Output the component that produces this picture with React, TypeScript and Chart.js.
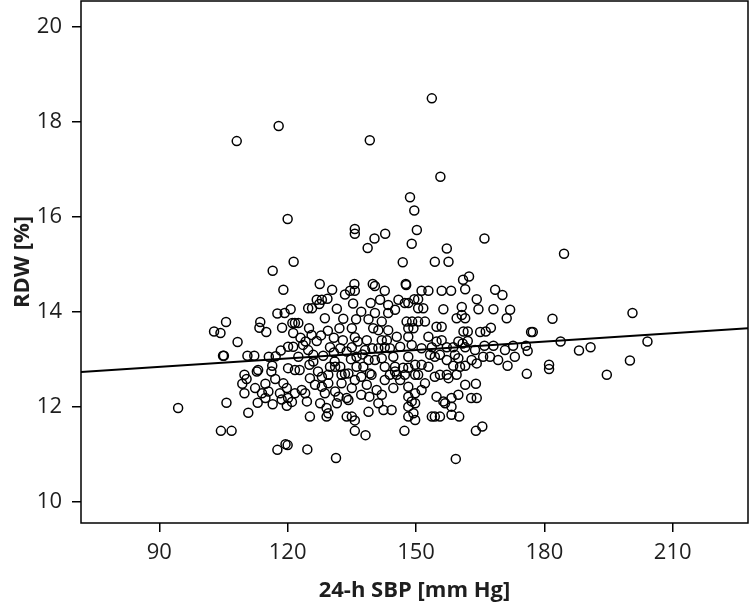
import React, { useEffect, useRef } from 'react';
import { Chart, registerables } from 'chart.js';
Chart.register(...registerables);

// 24-h SBP [mm Hg]
const sbp = [
  153.7, 117.9, 108.1, 139.2, 155.7, 148.6, 149.6, 120.0, 135.7, 135.7, 140.3, 142.8, 150.2, 149.0, 138.7, 157.2,
  121.4, 116.5, 146.9, 154.4, 157.6, 166.0, 184.6, 162.4, 161.0, 127.5, 135.6, 139.9, 147.6,
  119.0, 105.6, 102.8, 104.3, 108.3, 113.6, 113.4, 115.0, 117.6, 119.3, 118.7, 104.9, 105.1, 110.6, 112.2, 115.6,
  117.2, 118.4, 116.4, 113.1, 109.9, 116.2,
  130.4, 133.4, 134.6, 135.7, 126.8, 128.0, 129.3, 120.7, 124.8, 125.7, 127.4, 131.5, 135.3, 139.4, 128.7, 121.1,
  121.7, 122.5, 125.0, 129.4, 132.1, 135.0, 136.0, 138.9, 140.0, 121.3, 125.6, 126.8, 124.2, 130.8, 132.9, 135.7,
  136.4, 138.5, 120.1, 121.3, 123.6, 124.8, 129.9, 132.3, 135.0, 138.1, 139.8, 122.5, 126.0, 128.3, 130.8, 133.8,
  136.1, 138.9, 120.1, 121.7, 122.8, 125.1, 127.1, 129.9, 131.1, 132.3, 134.2, 136.1, 137.7, 139.2, 129.5, 132.6,
  123.0, 127.8, 133.0, 137.2, 126.0, 131.0, 134.8, 137.5,
  147.7, 140.4, 142.7, 151.3, 152.9, 156.0, 158.2, 145.9, 148.2, 149.6, 150.5, 141.6, 143.5, 147.4, 156.4, 160.7,
  140.4, 143.5, 145.1, 150.5, 151.7, 159.5, 160.7, 142.0, 147.8, 149.1, 150.5, 152.1, 148.2, 149.4, 154.8, 156.0,
  141.2, 143.5, 161.1, 145.5, 148.2, 152.9, 156.0, 154.8, 159.9, 142.0, 143.2, 141.2, 142.7, 143.9, 146.3, 149.0,
  151.3, 153.7, 157.2, 158.7, 160.9, 148.2, 153.3, 154.4, 155.6, 159.1, 159.9, 144.7, 142.0, 140.4, 157.2, 142.7,
  145.1, 149.8, 151.3, 152.9, 158.7, 160.3, 147.0, 148.2, 143.9, 145.5, 147.4, 150.5, 155.6, 157.2, 159.5,
  161.5, 168.5, 170.2, 164.2, 164.6, 168.1, 172.0, 171.2, 181.9, 200.6, 161.5, 162.1, 165.0, 166.3, 167.5, 176.9,
  177.3, 162.1, 183.8, 204.1, 161.5, 163.8, 166.0, 168.1, 170.8, 172.7, 175.7, 176.1, 188.1, 190.8, 163.0, 164.2,
  165.7, 167.3, 169.2, 171.4, 173.1, 181.1, 181.1, 200.0, 175.9, 194.6, 161.5,
  161.5, 164.0, 162.9, 164.2, 164.0, 165.5,
  94.4, 105.7, 110.8, 104.4, 106.9, 117.6, 119.5, 112.8, 110.4, 109.4, 112.4, 109.9, 114.8, 117.1, 115.5, 114.0,
  114.8, 118.2, 118.6, 119.0, 116.5, 119.8, 121.0, 113.0,
  128.0, 133.4, 135.7, 137.2, 139.6, 119.8, 121.7, 120.1, 123.3, 124.1, 124.5, 128.0, 129.5, 128.7, 131.1, 131.9,
  133.8, 135.0, 137.2, 139.1, 127.6, 129.1, 129.5, 131.5, 134.2, 125.2, 126.4, 132.6, 138.5,
  125.2, 129.1, 133.8, 135.0, 135.7, 138.9, 135.7, 138.2, 120.0, 124.6, 131.3,
  147.3, 159.3, 153.7, 154.4, 155.6, 160.1, 148.2, 149.8, 149.4,
  154.8, 156.8, 158.3, 159.9, 158.3, 144.7, 142.0, 141.2, 142.4, 144.3, 148.2, 149.0, 149.8, 148.2, 149.8, 151.3,
  152.1, 148.2, 146.3, 142.7, 154.4, 157.6, 156.4, 140.8, 145.1, 149.8, 158.3,
];

// RDW [%]
const rdw = [
  18.49, 17.91, 17.59, 17.61, 16.84, 16.41, 16.13, 15.95, 15.74, 15.64, 15.54, 15.64, 15.72, 15.43, 15.34, 15.33,
  15.05, 14.86, 15.04, 15.05, 15.05, 15.54, 15.22, 14.74, 14.67, 14.58, 14.58, 14.58, 14.58,
  14.46, 13.78, 13.58, 13.55, 13.36, 13.78, 13.66, 13.57, 13.96, 13.97, 13.66, 13.07, 13.07, 13.07, 13.07, 13.05,
  13.06, 13.18, 12.86, 12.77, 12.67, 12.74,
  14.46, 14.36, 14.44, 14.44, 14.25, 14.25, 14.27, 14.05, 14.07, 14.07, 14.16, 14.06, 14.17, 14.18, 13.86, 13.76,
  13.76, 13.76, 13.65, 13.60, 13.65, 13.65, 13.84, 13.84, 13.65, 13.55, 13.51, 13.38, 13.37, 13.45, 13.40, 13.46,
  13.37, 13.40, 13.26, 13.26, 13.30, 13.19, 13.25, 13.23, 13.25, 13.19, 13.23, 13.05, 13.09, 13.07, 13.14, 13.16,
  13.05, 12.98, 12.81, 12.77, 12.77, 12.88, 12.74, 12.84, 12.84, 12.84, 12.70, 12.84, 12.84, 12.70, 12.67, 12.67,
  13.45, 13.50, 13.85, 14.00, 12.95, 12.95, 13.00, 13.10,
  14.56, 14.54, 14.44, 14.44, 14.44, 14.44, 14.44, 14.25, 14.18, 14.26, 14.26, 14.25, 14.14, 14.18, 14.05, 14.10,
  13.97, 13.97, 14.04, 14.07, 14.07, 13.86, 13.93, 13.79, 13.79, 13.79, 13.79, 13.79, 13.65, 13.65, 13.68, 13.68,
  13.61, 13.61, 13.58, 13.47, 13.47, 13.47, 13.40, 13.37, 13.37, 13.40, 13.40, 13.23, 13.25, 13.23, 13.26, 13.30,
  13.23, 13.25, 13.25, 13.25, 13.33, 13.05, 13.09, 13.05, 13.09, 13.09, 13.02, 13.05, 13.02, 12.98, 12.98, 12.84,
  12.84, 12.88, 12.88, 12.84, 12.86, 12.84, 12.82, 12.82, 12.67, 12.67, 12.67, 12.67, 12.67, 12.67, 12.67,
  14.47, 14.46, 14.35, 14.26, 14.05, 14.05, 14.04, 13.86, 13.85, 13.97, 13.86, 13.58, 13.57, 13.58, 13.66, 13.57,
  13.57, 13.38, 13.37, 13.37, 13.25, 13.19, 13.28, 13.28, 13.19, 13.28, 13.28, 13.17, 13.18, 13.25, 12.98, 12.91,
  13.05, 13.05, 12.98, 12.86, 13.05, 12.88, 12.79, 12.97, 12.69, 12.67, 12.86,
  12.46, 12.48, 12.18, 12.18, 11.49, 11.58,
  11.97, 12.08, 11.87, 11.49, 11.49, 11.09, 11.21, 12.74, 12.58, 12.48, 12.39, 12.28, 12.48, 12.58, 12.32, 12.28,
  12.18, 12.28, 12.15, 12.49, 12.05, 12.02, 12.10, 12.08,
  12.63, 12.69, 12.56, 12.63, 12.67, 12.39, 12.28, 12.18, 12.35, 12.28, 12.11, 12.42, 12.49, 12.28, 12.32, 12.21,
  12.18, 12.39, 12.25, 12.21, 12.07, 11.97, 11.86, 12.07, 12.14, 12.60, 12.46, 12.49, 12.46,
  11.79, 11.79, 11.79, 11.79, 11.71, 11.89, 11.49, 11.40, 11.19, 11.10, 10.92,
  11.49, 10.90, 11.79, 11.79, 11.79, 11.79, 11.79, 11.72, 11.86,
  12.21, 12.07, 12.00, 12.25, 12.18, 12.39, 12.25, 12.07, 11.93, 11.93, 12.00, 12.11, 12.07, 12.21, 12.28, 12.35,
  12.49, 12.42, 12.56, 12.56, 12.63, 12.60, 12.11, 12.35, 12.74, 12.67, 11.83,
];

// regression line end points
const fitX = [71.7, 227.6];
const fitY = [12.73, 13.65];

const xTicks = [90, 120, 150, 180, 210];
const yTicks = [10, 12, 14, 16, 18, 20];

const FONT = "'Open Sans', 'DejaVu Sans', sans-serif";
const TEXT = '#1e1e1e';

const boxPlugin = {
  id: 'box',
  afterDraw(chart: any) {
    const { ctx, chartArea: a } = chart;
    ctx.save();
    ctx.strokeStyle = '#000';
    ctx.lineWidth = 1.5;
    ctx.strokeRect(a.left, a.top, a.right - a.left, a.bottom - a.top);
    ctx.restore();
  },
};

const zeroPad = (s: any) => {
  s.paddingTop = 0;
  s.paddingBottom = 0;
  s.paddingLeft = 0;
  s.paddingRight = 0;
};

export default function App() {
  const ref = useRef<HTMLCanvasElement>(null);
  useEffect(() => {
    document.body.style.margin = '0';
    const points = sbp.map((x, i) => ({ x, y: rdw[i] }));
    const line = fitX.map((x, i) => ({ x, y: fitY[i] }));
    const chart = new Chart(ref.current as HTMLCanvasElement, {
      type: 'scatter',
      data: {
        datasets: [
          {
            data: points,
            pointRadius: 4.5,
            pointHoverRadius: 4.5,
            pointBorderWidth: 1.5,
            borderColor: '#000',
            backgroundColor: 'rgba(0,0,0,0)',
          } as any,
          {
            type: 'line',
            data: line,
            borderColor: '#000',
            borderWidth: 2,
            pointRadius: 0,
            fill: false,
          } as any,
        ],
      },
      options: {
        animation: false,
        responsive: false,
        events: [],
        layout: { autoPadding: false, padding: { top: 1, right: 2, left: 0, bottom: 0 } },
        plugins: { legend: { display: false }, tooltip: { enabled: false } },
        scales: {
          x: {
            type: 'linear',
            min: 71.7,
            max: 227.6,
            afterBuildTicks: (s: any) => {
              s.ticks = xTicks.map((v) => ({ value: v }));
            },
            afterFit: (s: any) => {
              s.height = 85;
              zeroPad(s);
            },
            grid: { display: true, drawOnChartArea: false, drawTicks: true, tickLength: 9, color: '#000', lineWidth: 1.5 },
            border: { display: false },
            ticks: { color: TEXT, font: { family: FONT, size: 22 }, padding: 8, maxRotation: 0 },
            title: {
              display: true,
              text: '24-h SBP [mm Hg]',
              color: TEXT,
              font: { family: FONT, size: 22, weight: 'bold' },
              padding: { top: 0, bottom: 4 },
            },
          },
          y: {
            type: 'linear',
            min: 9.55,
            max: 20.54,
            afterBuildTicks: (s: any) => {
              s.ticks = yTicks.map((v) => ({ value: v }));
            },
            afterFit: (s: any) => {
              s.width = 81;
              zeroPad(s);
            },
            grid: { display: true, drawOnChartArea: false, drawTicks: true, tickLength: 9, color: '#000', lineWidth: 1.5 },
            border: { display: false },
            ticks: { color: TEXT, font: { family: FONT, size: 22 }, padding: 10 },
            title: {
              display: true,
              text: 'RDW [%]',
              color: TEXT,
              font: { family: FONT, size: 22, weight: 'bold' },
              padding: { top: 10, bottom: 0 },
            },
          },
        },
      },
      plugins: [boxPlugin],
    });
    return () => chart.destroy();
  }, []);
  return (
    <div style={{ width: 750, height: 608 }}>
      <canvas ref={ref} width={750} height={608} style={{ display: 'block' }} />
    </div>
  );
}
